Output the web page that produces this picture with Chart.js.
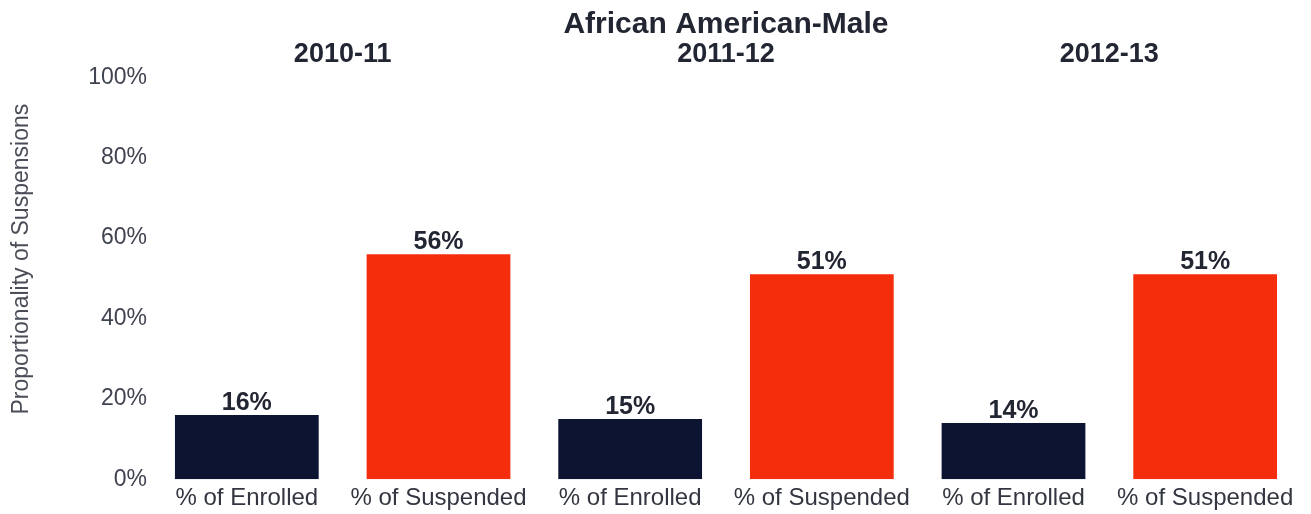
<!DOCTYPE html>
<html>
<head>
<meta charset="utf-8">
<script src="https://cdn.jsdelivr.net/npm/chart.js@4/dist/chart.umd.min.js"></script>
<style>
  html, body { margin: 0; padding: 0; background: #fff; }
  #wrap { width: 1311px; height: 514px; }
</style>
</head>
<body>
<div id="wrap"><canvas id="suspChart"></canvas></div>
<script>
const chartTitle = 'African American-Male';
const years = ['2010-11', '2011-12', '2012-13'];
const measures = ['% of Enrolled', '% of Suspended'];
const enrolled = [16, 15, 14];
const suspended = [56, 51, 51];
const yTicks = [0, 20, 40, 60, 80, 100];

const navy = '#0c1432';
const red = '#f42d0c';
const fontFam = "'Liberation Sans', Arial, sans-serif";

// one bar per (year, measure) pair
const labels = [];
const values = [];
const colors = [];
years.forEach((y, i) => {
    labels.push(measures[0]); values.push(enrolled[i]); colors.push(navy);
    labels.push(measures[1]); values.push(suspended[i]); colors.push(red);
});

// value above each bar + title centred over the plot area
const overlay = {
    id: 'overlay',
    afterDatasetsDraw(chart) {
        const ctx = chart.ctx;
        const area = chart.chartArea;
        const meta = chart.getDatasetMeta(0);
        ctx.save();
        ctx.fillStyle = '#222633';
        ctx.textAlign = 'center';
        ctx.font = 'bold 25px ' + fontFam;
        ctx.textBaseline = 'alphabetic';
        meta.data.forEach((bar, i) => {
            ctx.fillText(values[i] + '%', bar.x, bar.y - 5);
        });
        ctx.font = 'bold 30px ' + fontFam;
        ctx.textBaseline = 'middle';
        ctx.fillText(chartTitle, (area.left + area.right) / 2, 25);
        ctx.restore();
    }
};

new Chart(document.getElementById('suspChart'), {
    type: 'bar',
    data: {
        labels: labels,
        datasets: [{
            data: values,
            backgroundColor: colors,
            borderWidth: 0,
            categoryPercentage: 1,
            barPercentage: 0.75
        }]
    },
    options: {
        responsive: true,
        maintainAspectRatio: false,
        animation: false,
        layout: { padding: { top: 31, right: 10, bottom: -4, left: 0 } },
        plugins: {
            legend: { display: false },
            tooltip: { enabled: false }
        },
        scales: {
            x: {
                grid: { display: false, drawTicks: false },
                border: { display: false },
                ticks: {
                    color: '#333640',
                    font: { family: fontFam, size: 24 },
                    padding: 5,
                    maxRotation: 0,
                    autoSkip: false
                }
            },
            x2: {
                type: 'category',
                position: 'top',
                labels: years,
                offset: true,
                grid: { display: false, drawTicks: false },
                border: { display: false },
                ticks: {
                    color: '#222633',
                    font: { family: fontFam, size: 27, weight: 'bold' },
                    padding: 7
                }
            },
            y: {
                min: 0,
                max: 100,
                afterBuildTicks(axis) {
                    axis.ticks = yTicks.map(v => ({ value: v }));
                },
                afterFit(axis) {
                    axis.width = 151;
                },
                grid: { display: false, drawTicks: false },
                border: { display: false },
                ticks: {
                    color: '#404350',
                    font: { family: fontFam, size: 23 },
                    padding: 4,
                    callback: v => v + '%'
                },
                title: {
                    display: true,
                    text: '      Proportionality of Suspensions',
                    color: '#4a4d58',
                    font: { family: fontFam, size: 23 },
                    padding: { top: 8, bottom: 0 }
                }
            }
        }
    },
    plugins: [overlay]
});
</script>
</body>
</html>
